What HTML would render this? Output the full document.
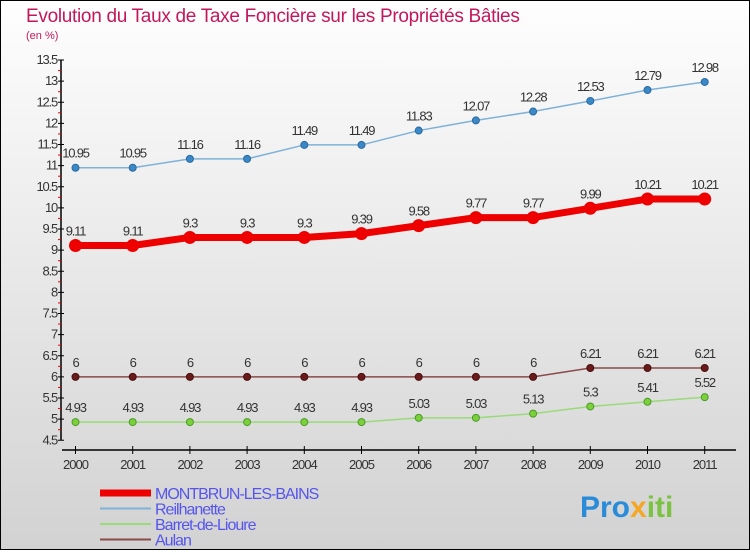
<!DOCTYPE html>
<html><head><meta charset="utf-8"><style>
body{margin:0}
svg text{font-family:"Liberation Sans",sans-serif}
</style></head><body>
<svg width="750" height="550" xmlns="http://www.w3.org/2000/svg">
<defs><linearGradient id="bg" x1="0" y1="0" x2="0" y2="1"><stop offset="0" stop-color="#fefefe"/><stop offset="1" stop-color="#d2d2d2"/></linearGradient></defs>
<rect x="0.5" y="0.5" width="749" height="549" fill="url(#bg)" stroke="#000"/>
<text x="26" y="22" font-size="19" fill="#c2185b" letter-spacing="-0.3">Evolution du Taux de Taxe Foncière sur les Propriétés Bâties</text>
<text x="26" y="39" font-size="11" fill="#c2185b">(en %)</text>
<g id="axes"></g>
<g id="series"></g>
<g id="legend"></g>
<text x="580" y="517" font-size="30" font-weight="bold" fill="#2a8bd8">Pro<tspan fill="#f5a623">x</tspan><tspan fill="#7cc242">iti</tspan></text>
</svg>
<script>
const years=[2000,2001,2002,2003,2004,2005,2006,2007,2008,2009,2010,2011];
const montbrun=[9.11,9.11,9.3,9.3,9.3,9.39,9.58,9.77,9.77,9.99,10.21,10.21];
const reilhanette=[10.95,10.95,11.16,11.16,11.49,11.49,11.83,12.07,12.28,12.53,12.79,12.98];
const barret=[4.93,4.93,4.93,4.93,4.93,4.93,5.03,5.03,5.13,5.3,5.41,5.52];
const aulan=[6,6,6,6,6,6,6,6,6,6.21,6.21,6.21];
const yTicks=[4.5,5,5.5,6,6.5,7,7.5,8,8.5,9,9.5,10,10.5,11,11.5,12,12.5,13,13.5];
const NS='http://www.w3.org/2000/svg';
const X=i=>75.5+i*57.2, Y=v=>60+(13.5-v)*42.25;
function mk(t,a,p){const e=document.createElementNS(NS,t);for(const k in a)e.setAttribute(k,a[k]);p.appendChild(e);return e;}
const ax=document.getElementById('axes');
let l=mk('line',{x1:61,y1:Y(13.5),x2:61,y2:Y(4.5),stroke:'#000','stroke-width':1.5},ax);


yTicks.forEach(v=>{
 let t=mk('line',{x1:58,y1:Y(v),x2:64,y2:Y(v),stroke:'#000'},ax);
 
 
 if(v<13.5){let m=mk('line',{x1:58,y1:Y(v+0.25),x2:61,y2:Y(v+0.25),stroke:'#e00'},ax);
 
 }
 let tx=mk('text',{x:57,y:Y(v)+4,'font-size':13,'text-anchor':'end',fill:'#333','letter-spacing':'-1.2'},ax);
 tx.textContent=String(v);
 
 
});
l=mk('line',{x1:62,y1:450,x2:736,y2:450,stroke:'#000','stroke-width':1.5},ax);


years.forEach((y,i)=>{
 let t=mk('line',{x1:X(i),y1:446,x2:X(i),y2:454,stroke:'#000'},ax);
 
 
 let tx=mk('text',{x:X(i),y:469,'font-size':13,'text-anchor':'middle',fill:'#333','letter-spacing':'-1'},ax);
 tx.textContent=y;
 
 
});
const sg=document.getElementById('series');
function series(name,vals,col,w,r,dot,dotStroke){
 const g=mk('g',{},sg);
 
 
 const p=mk('polyline',{points:vals.map((v,i)=>X(i)+','+Y(v)).join(' '),fill:'none',stroke:col,'stroke-width':w,'stroke-linejoin':'round'},g);
 
 
 vals.forEach((v,i)=>{
  const c=mk('circle',{cx:X(i),cy:Y(v),r:r,fill:dot,stroke:dotStroke,'stroke-width':1},g);
  
  
  const t=mk('text',{x:X(i),y:Y(v)-10,'font-size':13,'text-anchor':'middle',fill:'#333','letter-spacing':'-1.2'},g);
  t.textContent=String(v);
  
  
 });
}
series('reilhanette',reilhanette,'#7fb2d8',1.5,3.5,'#3a88c8','#2a6aa0');
series('aulan',aulan,'#8b4a4a',1.5,3.5,'#6a1a1a','#4a1010');
series('barret',barret,'#9ada7a',1.5,3.5,'#7cd03a','#4a9a2a');
series('montbrun',montbrun,'#ee0000',7,6,'#ee0000','#ee0000');
const lg=document.getElementById('legend');
[['MONTBRUN-LES-BAINS','#ee0000',7],['Reilhanette','#7fb2d8',2],['Barret-de-Lioure','#9ada7a',2],['Aulan','#8b4a4a',2]].forEach((d,i)=>{
 const y=493+i*15.5;
 const g=mk('g',{},lg);
 
 
 mk('line',{x1:100,y1:y,x2:151,y2:y,stroke:d[1],'stroke-width':d[2]},g);
 const t=mk('text',{x:155,y:y+6,'font-size':16,fill:'#5555ee','letter-spacing':'-1'},g);
 t.textContent=d[0];
});
</script>
</body></html>
